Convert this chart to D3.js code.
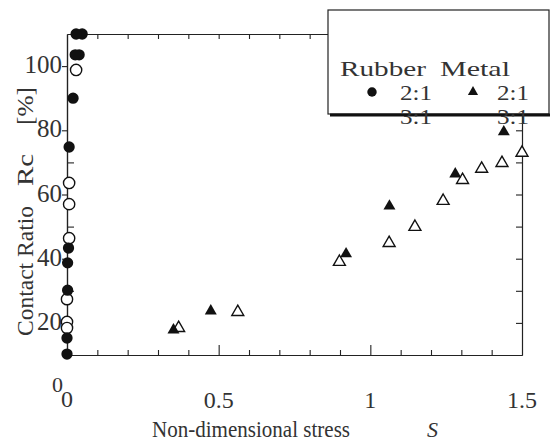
<!DOCTYPE html>
<html>
<head>
<meta charset="utf-8">
<script src="https://cdn.jsdelivr.net/npm/d3@7"></script>
<style>
  body { margin: 0; background: #fff; }
  svg text { font-family: "Liberation Serif", "DejaVu Serif", serif; fill: #333; }
</style>
</head>
<body>
<div id="chart"></div>
<script>
// data
var rubber21X = [0.05, 0.03, 0.04, 0.027, 0.02, 0.007, 0.005, 0.002, 0.002, 0.0, 0.0];
var rubber21Y = [110, 110, 103.5, 103.5, 90, 74.8, 43.3, 38.7, 30.2, 15.3, 10.3];
var rubber31X = [0.03, 0.007, 0.007, 0.007, 0.0, 0.0, 0.0];
var rubber31Y = [98.8, 63.6, 57, 46.4, 27.4, 20.3, 18.4];
var metal21X = [0.351, 0.474, 0.92, 1.063, 1.28, 1.44];
var metal21Y = [17.8, 23.7, 41.5, 56.4, 66.4, 79.5];
var metal31X = [0.368, 0.563, 0.898, 1.062, 1.147, 1.24, 1.304, 1.367, 1.434, 1.5];
var metal31Y = [18.4, 23.4, 39, 44.9, 49.9, 58, 64.5, 68, 69.8, 73];

var xMinorTicks = [0.1, 0.2, 0.3, 0.4, 0.6, 0.7, 0.8, 0.9, 1.1, 1.2, 1.3, 1.4];
var xMajorTicks = [0.5, 1];
var xTickLabels = [0.5, 1, 1.5];
var yMinorTicks = [30, 50, 70, 90];
var yMajorTicks = [20, 40, 60, 80, 100];

var svgWidth = 551, svgHeight = 442;
var margin = {top: 34, right: 29, bottom: 87, left: 67};
var width = svgWidth - margin.left - margin.right;
var height = svgHeight - margin.top - margin.bottom;

var svg = d3.select("#chart").append("svg")
  .attr("width", svgWidth)
  .attr("height", svgHeight)
  .attr("font-family", "Liberation Serif, DejaVu Serif, serif");

var g = svg.append("g")
  .attr("transform", `translate(${margin.left}, ${margin.top})`);

var x = d3.scaleLinear().domain([0, 1.5]).range([0, width]);
var y = d3.scaleLinear().domain([10, 110]).range([height, 0]);

function styleAxis(sel) {
  sel.select(".domain").attr("stroke", "#222").attr("stroke-width", 1.2);
  sel.selectAll(".tick line").attr("stroke", "#222").attr("stroke-width", 1.1);
  sel.selectAll("text").remove();
}

// bottom axis, ticks pointing in
g.append("g").attr("transform", `translate(0,${height})`)
  .call(d3.axisBottom(x).tickValues(xMinorTicks).tickSizeInner(-5).tickSizeOuter(0))
  .call(styleAxis);
g.append("g").attr("transform", `translate(0,${height})`)
  .call(d3.axisBottom(x).tickValues(xMajorTicks).tickSizeInner(-10).tickSizeOuter(0))
  .call(styleAxis);
// top axis
g.append("g")
  .call(d3.axisTop(x).tickValues(xMinorTicks.concat(xMajorTicks)).tickSizeInner(-5).tickSizeOuter(0))
  .call(styleAxis);
// left axis
g.append("g")
  .call(d3.axisLeft(y).tickValues(yMinorTicks).tickSizeInner(-7).tickSizeOuter(0))
  .call(styleAxis);
g.append("g")
  .call(d3.axisLeft(y).tickValues(yMajorTicks).tickSizeInner(5).tickSizeOuter(0))
  .call(styleAxis);
// right axis
g.append("g").attr("transform", `translate(${width},0)`)
  .call(d3.axisRight(y).tickValues(yMinorTicks.concat(yMajorTicks)).tickSizeInner(-6).tickSizeOuter(0))
  .call(styleAxis);

// tick labels
g.selectAll(".xlab").data(xTickLabels).enter().append("text")
  .attr("x", d => x(d))
  .attr("y", height + 53)
  .attr("text-anchor", "middle")
  .attr("font-size", "24px")
  .text(d => d);
g.selectAll(".ylab").data(yMajorTicks).enter().append("text")
  .attr("x", -5)
  .attr("y", d => y(d) + 7)
  .attr("text-anchor", "end")
  .attr("font-size", "25px")
  .text(d => d);
g.append("text").attr("x", -4).attr("y", height + 37)
  .attr("text-anchor", "end").attr("font-size", "22px").text("0");
g.append("text").attr("x", x(0)).attr("y", height + 52)
  .attr("text-anchor", "middle").attr("font-size", "24px").text("0");

// axis titles
svg.append("text")
  .attr("x", 152).attr("y", 437)
  .attr("font-size", "23px")
  .attr("textLength", 198).attr("lengthAdjust", "spacingAndGlyphs")
  .text("Non-dimensional stress");
svg.append("text")
  .attr("x", 427).attr("y", 437)
  .attr("font-size", "22px").attr("font-style", "italic")
  .text("S");

function yTitle(txt, start, len) {
  return svg.append("text")
    .attr("transform", `translate(33, ${start}) rotate(-90)`)
    .attr("font-size", "23px")
    .attr("textLength", len).attr("lengthAdjust", "spacingAndGlyphs")
    .text(txt);
}
yTitle("Contact Ratio", 336, 130);
yTitle("Rc", 186, 32);
yTitle("[%]", 125, 38);

// points
function pts(xs, ys) { return xs.map((v, i) => ({x: v, y: ys[i]})); }
var circ = d3.symbol().type(d3.symbolCircle).size(100);
var tri = d3.symbol().type(d3.symbolTriangle).size(62);

g.selectAll(".r31").data(pts(rubber31X, rubber31Y)).enter().append("path")
  .attr("d", circ).attr("transform", d => `translate(${x(d.x)},${y(d.y)})`)
  .attr("fill", "#fff").attr("stroke", "#111").attr("stroke-width", 1.4);
g.selectAll(".r21").data(pts(rubber21X, rubber21Y)).enter().append("path")
  .attr("d", circ).attr("transform", d => `translate(${x(d.x)},${y(d.y)})`)
  .attr("fill", "#111");
g.selectAll(".m31").data(pts(metal31X, metal31Y)).enter().append("path")
  .attr("d", tri).attr("transform", d => `translate(${x(d.x)},${y(d.y)})`)
  .attr("fill", "#fff").attr("stroke", "#111").attr("stroke-width", 1.4);
g.selectAll(".m21").data(pts(metal21X, metal21Y)).enter().append("path")
  .attr("d", tri).attr("transform", d => `translate(${x(d.x)},${y(d.y)})`)
  .attr("fill", "#111");

// legend box
var lg = svg.append("g");
lg.append("rect")
  .attr("x", 328).attr("y", 10).attr("width", 221).attr("height", 104)
  .attr("fill", "#fff").attr("stroke", "#222").attr("stroke-width", 1.2);
lg.append("line")
  .attr("x1", 330).attr("x2", 550).attr("y1", 115).attr("y2", 115)
  .attr("stroke", "#111").attr("stroke-width", 3);
function legText(txt, lx, ly, len) {
  lg.append("text").attr("x", lx).attr("y", ly).attr("font-size", "21px")
    .attr("fill", "#444")
    .attr("textLength", len).attr("lengthAdjust", "spacingAndGlyphs").text(txt);
}
legText("Rubber", 340, 76, 86);
legText("Metal", 440, 76, 70);
lg.append("path").attr("d", d3.symbol().type(d3.symbolCircle).size(70))
  .attr("transform", "translate(372,92)").attr("fill", "#111");
lg.append("path").attr("d", d3.symbol().type(d3.symbolTriangle).size(45))
  .attr("transform", "translate(473,92)").attr("fill", "#111");
legText("2:1", 400, 100, 32);
legText("2:1", 497, 100, 32);
legText("3:1", 400, 124, 32);
legText("3:1", 497, 124, 32);
</script>
</body>
</html>
